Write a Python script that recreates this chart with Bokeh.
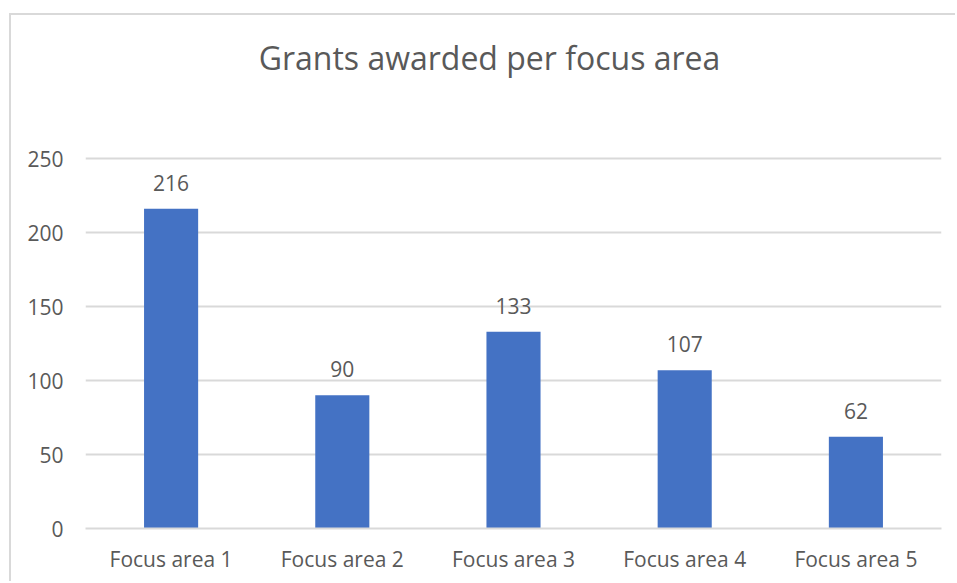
from bokeh.plotting import figure
from bokeh.models import FactorRange, Range1d, FixedTicker, ColumnDataSource
from bokeh.core.properties import value
from bokeh.embed import file_html
from bokeh.resources import INLINE

categories = ["Focus area 1", "Focus area 2", "Focus area 3", "Focus area 4", "Focus area 5"]
grants = [216, 90, 133, 107, 62]
y_ticks = [0, 50, 100, 150, 200, 250]
title_text = "Grants awarded per focus area"

FONT = "Open Sans"
TXT = "#595959"
GRID = "#d9d9d9"
BAR = "#4472C4"

# layout (pixels)
CANVAS_W, CANVAS_H = 946, 568
BORDER_BOTTOM = 55
FRAME_H = CANVAS_H - BORDER_BOTTOM          # frame spans full canvas height above the axis
PX_PER_UNIT = 370 / y_ticks[-1]             # 0..250 occupies 370 px
Y_TOP = FRAME_H / PX_PER_UNIT               # extra room above 250 holds the title

src = ColumnDataSource(dict(cat=categories, val=grants, lab=[str(v) for v in grants]))

p = figure(
    width=CANVAS_W, height=CANVAS_H,
    x_range=FactorRange(*categories, range_padding=0),
    y_range=Range1d(0, Y_TOP),
    output_backend="svg", toolbar_location=None,
    min_border_left=74, min_border_right=16, min_border_top=0, min_border_bottom=BORDER_BOTTOM,
    background_fill_color="white", border_fill_color="white",
)
p.margin = (13, 0, 0, 9)
p.styles = {"border-left": "2px solid #d9d9d9", "border-top": "2px solid #d9d9d9"}
p.outline_line_color = None

p.vbar(x="cat", top="val", width=0.316, source=src, fill_color=BAR, line_color=None)
p.text(x="cat", y="val", text="lab", source=src, y_offset=-26,
       text_align="center", text_baseline="alphabetic",
       text_font=value(FONT), text_font_size="21px", text_color=TXT)

# chart title, placed above the top gridline
p.text(x=[categories[2]], y=[y_ticks[-1]], text=[title_text], x_offset=-24, y_offset=-101,
       text_align="center", text_baseline="alphabetic",
       text_font=value(FONT), text_font_size="32px", text_color=TXT)

p.xgrid.grid_line_color = None
p.ygrid.grid_line_color = GRID
p.ygrid.grid_line_width = 2
p.yaxis.ticker = FixedTicker(ticks=y_ticks)

for ax in (p.xaxis, p.yaxis):
    ax.major_tick_line_color = None
    ax.minor_tick_line_color = None
    ax.major_tick_out = 0
    ax.major_tick_in = 0
    ax.minor_tick_out = 0
    ax.minor_tick_in = 0
    ax.major_label_text_font = FONT
    ax.major_label_text_font_size = "21px"
    ax.major_label_text_color = TXT
p.yaxis.axis_line_color = None
p.xaxis.axis_line_color = GRID
p.xaxis.axis_line_width = 2
p.yaxis.major_label_standoff = 22
p.xaxis.major_label_standoff = 16

open("out.html", "w").write(file_html(p, INLINE))
